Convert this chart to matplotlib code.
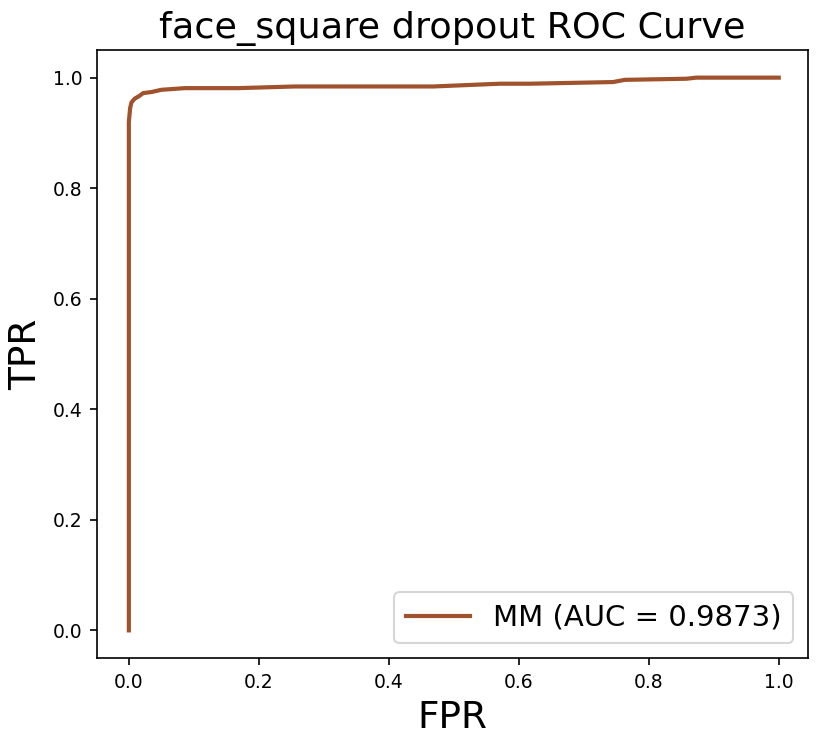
import matplotlib
matplotlib.use('Agg')
import matplotlib.pyplot as plt

# ROC points
fpr = [0.0, 0.0, 0.0, 0.002, 0.004, 0.009, 0.015, 0.022, 0.035, 0.05, 0.086,
       0.168, 0.255, 0.468, 0.571, 0.617, 0.745, 0.763, 0.858, 0.873, 1.0]
tpr = [0.0, 0.89, 0.92, 0.945, 0.955, 0.962, 0.966, 0.972, 0.974, 0.978, 0.981,
       0.981, 0.984, 0.984, 0.989, 0.989, 0.992, 0.996, 0.998, 1.0, 1.0]
auc_val = 0.9873
model = 'MM'
title = 'face_square dropout ROC Curve'

fig = plt.figure(figsize=(830 / 150, 745 / 150), dpi=150)
ax = fig.add_axes([97 / 830, 1 - 658 / 745, (808 - 97) / 830, (658 - 50) / 745])
ax.plot(fpr, tpr, color='sienna', lw=2, label=f'{model} (AUC = {auc_val})')
ax.set_xlim(-0.049, 1.045)
ax.set_ylim(-0.05, 1.05)
ax.tick_params(labelsize=9)
ax.set_xlabel('FPR', fontsize=18)
ax.set_ylabel('TPR', fontsize=18)
ax.set_title(title, fontsize=17.5)
ax.legend(loc='lower right', fontsize=14, handlelength=2.2, borderpad=0.4,
          borderaxespad=0.5)
fig.savefig('out.png', dpi=150)
